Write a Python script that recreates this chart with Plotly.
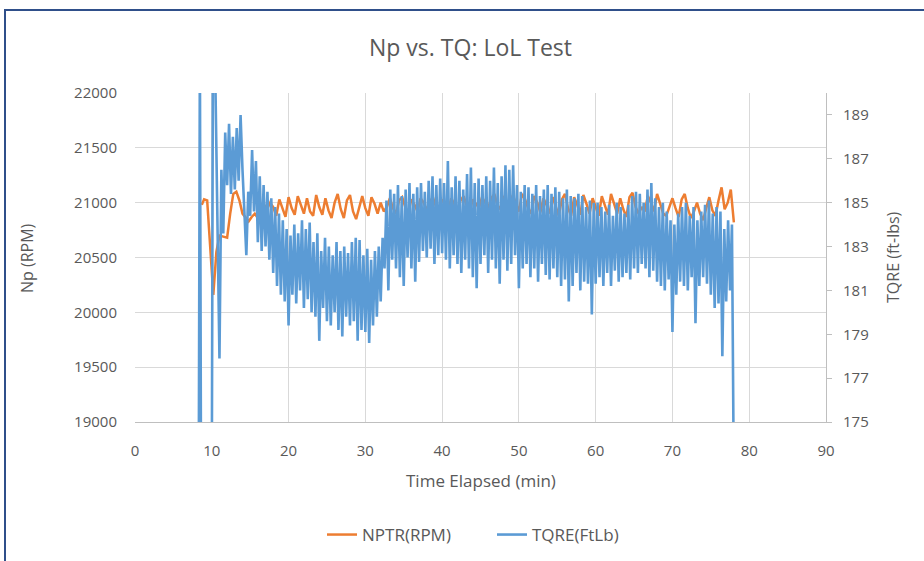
import plotly.graph_objects as go

# ---------------- data ----------------
# NPTR (RPM), left axis
np_early_t = [8.7, 9.0, 9.4, 9.7, 10.2, 10.6, 11.0, 11.5, 12.0, 12.4, 12.8, 13.2, 13.6]
np_early_v = [20980, 21030, 21020, 20700, 20160, 20550, 20700, 20690, 20680, 20900, 21080, 21100, 21020]
np_t0 = 14.0   # start of regularly sampled part (min)
np_dt = 0.4    # sample interval (min)
np_vals = [
    20900, 20860, 20830, 20870, 20900, 20860, 20920, 20980, 20940, 21000,
    20960, 20880, 21030, 20940, 20870, 21050, 20950, 20890, 21060, 20980,
    20900, 21040, 20920, 20880, 21070, 20960, 20890, 21040, 20930, 20860,
    21000, 21080, 20940, 20860, 21020, 21070, 20920, 20850, 20960, 21060,
    20950, 20880, 21050, 20990, 20900, 21000, 20920, 20960, 21040, 20950,
    20900, 21020, 21050, 20960, 20910, 21030, 20980, 20920, 21040, 21000,
    20930, 21010, 21050, 20960, 20920, 21030, 20990, 20940, 21040, 20980,
    20930, 21020, 21060, 20970, 20920, 21030, 20990, 20950, 21050, 21000,
    20950, 21040, 21080, 20980, 20940, 21060, 21010, 20960, 21070, 21000,
    20920, 21080, 21030, 20950, 20900, 21060, 21000, 20910, 21040, 20980,
    20900, 21050, 20960, 20880, 21030, 21080, 20950, 20880, 21050, 20980,
    20890, 21070, 20990, 20900, 21040, 20960, 20880, 21060, 20970, 20890,
    21080, 21000, 20900, 21040, 20940, 20870, 21050, 21090, 20960, 20900,
    20960, 20920, 21060, 21000, 20920, 21080, 20980, 20900, 20880, 20960,
    21040, 20950, 20870, 21030, 21080, 20950, 20860, 20920, 21000, 20900,
    20840, 20950, 21050, 20930, 20880, 21020, 21140, 20940, 21000, 21120,
]
np_end_t = [78.0]
np_end_v = [20820]

# TQRE (ft-lbs), right axis
tq_early_t = [8.3, 8.45, 8.6, 10.0, 10.15, 10.45]
tq_early_v = [172.0, 192.0, 172.0, 172.0, 192.0, 191.0]
tq_t0 = 11.0   # start of regularly sampled part (min)
tq_dt = 0.25   # sample interval (min)
tq_vals = [
    177.9, 186.5, 183.6, 188.2,
    185.8, 188.6, 185.4, 188.0,
    185.6, 188.4, 186.0, 189.0,
    186.5, 184.3, 182.6, 185.5,
    184.4, 187.4, 184.6, 186.9,
    183.2, 186.2, 182.8, 185.8,
    183.0, 185.5, 182.4, 185.2,
    181.8, 184.8, 181.2, 184.5,
    180.8, 184.2, 180.5, 183.8,
    179.4, 183.5, 180.8, 184.0,
    180.4, 183.6, 181.0, 184.2,
    180.2, 183.8, 180.6, 184.1,
    180.0, 183.2, 179.8, 183.6,
    178.7, 182.8, 180.2, 183.4,
    179.6, 183.0, 179.4, 182.6,
    180.0, 183.2, 179.2, 182.8,
    178.9, 183.0, 179.8, 182.7,
    179.4, 183.2, 179.6, 183.4,
    178.7, 183.3, 179.2, 182.6,
    179.1, 182.9, 178.6, 182.4,
    179.4, 182.8, 179.8, 183.0,
    180.5, 183.4, 182.0, 185.1,
    181.0, 185.6, 182.4, 185.4,
    182.0, 185.8, 181.6, 185.3,
    181.2, 185.6, 182.5, 185.9,
    182.0, 185.4, 181.4, 185.7,
    182.3, 185.9, 182.8, 185.5,
    182.5, 186.0, 182.9, 186.2,
    182.2, 185.8, 182.6, 186.1,
    182.7, 185.9, 182.4, 186.9,
    182.0, 185.7, 182.6, 186.2,
    182.2, 186.0, 181.8, 185.6,
    182.4, 186.3, 182.0, 186.6,
    181.6, 185.9, 181.1, 186.1,
    182.2, 185.8, 182.6, 186.2,
    181.8, 186.0, 182.4, 186.6,
    182.0, 185.9, 181.3, 186.2,
    182.4, 186.7, 181.9, 186.5,
    182.2, 186.7, 182.6, 185.8,
    181.1, 185.5, 182.0, 185.8,
    182.2, 185.7, 181.6, 185.4,
    182.0, 185.8, 181.4, 185.3,
    182.2, 185.6, 181.7, 185.8,
    181.5, 185.4, 182.0, 185.7,
    181.6, 185.5, 181.2, 185.2,
    181.5, 185.6, 180.5, 185.3,
    181.2, 185.2, 181.8, 185.4,
    181.0, 185.3, 181.4, 184.8,
    181.3, 185.1, 179.9, 185.0,
    181.3, 185.0, 181.6, 184.8,
    181.2, 184.6, 181.8, 184.9,
    181.2, 184.4, 181.9, 185.0,
    181.4, 184.8, 181.6, 184.5,
    181.8, 184.9, 181.5, 185.3,
    182.0, 185.5, 181.8, 185.4,
    182.2, 185.0, 182.0, 185.6,
    181.6, 185.9, 181.9, 185.2,
    181.4, 184.8, 181.2, 185.0,
    181.0, 184.6, 181.5, 184.2,
    179.1, 184.0, 180.8, 184.5,
    181.4, 184.8, 181.2, 185.0,
    181.0, 184.4, 181.6, 184.8,
    179.5, 184.2, 181.2, 184.6,
    181.6, 184.9, 181.3, 185.1,
    180.8, 184.5, 180.2, 184.8,
    180.4, 184.6, 178.0, 183.8,
    180.5, 184.2, 181.0, 184.0,
]
tq_end_t = [78.0]
tq_end_v = [172.0]

x_ticks = [0, 10, 20, 30, 40, 50, 60, 70, 80, 90]

# ---------------- assemble ----------------
np_t = np_early_t + [round(np_t0 + i * np_dt, 3) for i in range(len(np_vals))] + np_end_t
np_v = np_early_v + np_vals + np_end_v
tq_t = tq_early_t + [round(tq_t0 + i * tq_dt, 3) for i in range(len(tq_vals))] + tq_end_t
tq_v = tq_early_v + tq_vals + tq_end_v

ORANGE = "#ED7D31"
BLUE = "#5B9BD5"
GRAY = "#595959"
GRID = "#D9D9D9"
FONT = "Open Sans"

fig = go.Figure()
fig.add_trace(go.Scatter(x=np_t, y=np_v, mode="lines", name="NPTR(RPM)",
                         line=dict(color=ORANGE, width=2.5), yaxis="y"))
fig.add_trace(go.Scatter(x=tq_t, y=tq_v, mode="lines", name="TQRE(FtLb)",
                         line=dict(color=BLUE, width=2.6), yaxis="y2"))

W, H = 924, 561
L, R, T, B = 135, 98, 93, 139
pw, ph = W - L - R, H - T - B


def px(xp):
    return (xp - L) / pw


def py(yp):
    return (H - B - yp) / ph


fig.update_layout(
    width=W, height=H,
    margin=dict(l=L, r=R, t=T, b=B, pad=0, autoexpand=False),
    paper_bgcolor="white", plot_bgcolor="white",
    font=dict(family=FONT, color=GRAY, size=15),
    showlegend=True,
    legend=dict(orientation="h", x=px(492), xanchor="center", y=py(535), yanchor="middle",
                font=dict(size=17, color=GRAY), itemwidth=30, entrywidth=125,
                entrywidthmode="pixels", bgcolor="rgba(0,0,0,0)"),
    xaxis=dict(range=[0, 90], tickvals=x_ticks, showgrid=True, gridcolor=GRID, gridwidth=1,
               zeroline=False, showline=True, linecolor="#BFBFBF", linewidth=1,
               ticks="", tickfont=dict(size=15, color=GRAY), ticklabelstandoff=15),
    yaxis=dict(range=[19000, 22000], dtick=500, tick0=19000, tickformat="d",
               showgrid=True, gridcolor=GRID, gridwidth=1, zeroline=False,
               showline=False, ticks="", tickfont=dict(size=15, color=GRAY),
               ticklabelstandoff=17),
    yaxis2=dict(range=[175, 190], tick0=175, dtick=2, overlaying="y", side="right",
                showgrid=False, zeroline=False, showline=True, linecolor="#BFBFBF",
                linewidth=1, ticks="outside", ticklen=5, tickcolor="#BFBFBF",
                tickfont=dict(size=15, color=GRAY), ticklabelstandoff=8),
    annotations=[
        dict(text="Np vs. TQ: LoL Test", x=px(470), y=py(47), xref="paper", yref="paper",
             showarrow=False, font=dict(size=23, color=GRAY), xanchor="center", yanchor="middle"),
        dict(text="Np (RPM)", x=px(27), y=py(258), xref="paper", yref="paper", textangle=-90,
             showarrow=False, font=dict(size=16, color=GRAY), xanchor="center", yanchor="middle"),
        dict(text="TQRE (ft-lbs)", x=px(893), y=py(257), xref="paper", yref="paper", textangle=-90,
             showarrow=False, font=dict(size=16, color=GRAY), xanchor="center", yanchor="middle"),
        dict(text="Time Elapsed (min)", x=px(481), y=py(480), xref="paper", yref="paper",
             showarrow=False, font=dict(size=17, color=GRAY), xanchor="center", yanchor="middle"),
    ],
    shapes=[
        dict(type="rect", xref="paper", yref="paper", x0=px(5), x1=px(935), y0=py(575), y1=py(10),
             line=dict(color="#2F4F8A", width=2), fillcolor="rgba(0,0,0,0)", layer="below"),
    ],
)

fig.write_html("out.html", config={"displayModeBar": False},
               post_script="document.body.style.margin='0';document.body.style.overflow='hidden';")
